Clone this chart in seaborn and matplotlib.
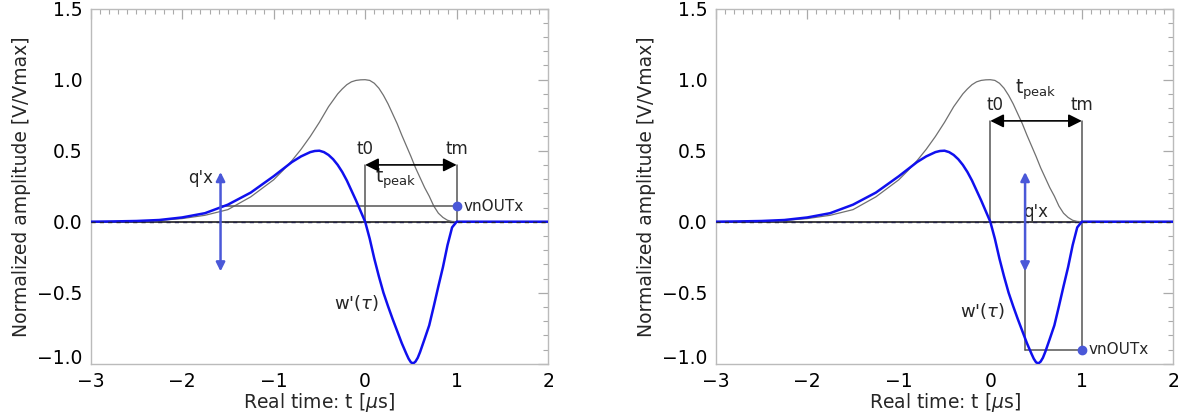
import numpy as np
import pandas as pd
import matplotlib
matplotlib.use('Agg')
import matplotlib.pyplot as plt
from matplotlib.ticker import MultipleLocator, FuncFormatter
import seaborn as sns

# pulse (gray) and weighting function w'(tau) (blue)
t_pulse = [-3.0, -2.75, -2.5, -2.25, -2.0, -1.75, -1.5, -1.25, -1.0, -0.9, -0.8, -0.7,
           -0.6, -0.5, -0.4, -0.3, -0.25, -0.2, -0.15, -0.1, -0.05, 0.0, 0.05, 0.1, 0.15,
           0.2, 0.25, 0.3, 0.35, 0.4, 0.45, 0.5, 0.55, 0.6, 0.65, 0.7, 0.75, 0.8, 0.85,
           0.9, 0.95, 1.0, 1.5, 2.0]
v_pulse = [0.0, 0.001, 0.004, 0.009, 0.022, 0.045, 0.085, 0.175, 0.295, 0.36, 0.43, 0.51,
           0.60, 0.70, 0.81, 0.90, 0.935, 0.965, 0.985, 0.995, 0.999, 1.0, 0.995, 0.975, 0.94,
           0.89, 0.83, 0.76, 0.69, 0.61, 0.535, 0.46, 0.38, 0.31, 0.24, 0.18, 0.11, 0.06, 0.03,
           0.01, 0.002, 0.0, 0.0, 0.0]

t_w = [-3.0, -2.75, -2.5, -2.25, -2.0, -1.75, -1.5, -1.25, -1.0, -0.9, -0.8, -0.7, -0.6,
       -0.55, -0.5, -0.45, -0.4, -0.35, -0.3, -0.25, -0.2, -0.15, -0.1, -0.05, 0.0, 0.05,
       0.1, 0.15, 0.2, 0.25, 0.3, 0.35, 0.4, 0.45, 0.475, 0.5, 0.525, 0.55, 0.575, 0.6,
       0.65, 0.7, 0.75, 0.8, 0.85, 0.9, 0.95, 1.0, 1.5, 2.0]
v_w = [0.0, 0.002, 0.005, 0.012, 0.03, 0.06, 0.12, 0.205, 0.32, 0.37, 0.42, 0.46, 0.49,
       0.498, 0.50, 0.49, 0.47, 0.44, 0.40, 0.35, 0.29, 0.22, 0.15, 0.075, 0.0, -0.12,
       -0.26, -0.385, -0.50, -0.595, -0.685, -0.77, -0.855, -0.93, -0.965, -0.99, -0.998,
       -0.985, -0.958, -0.918, -0.825, -0.73, -0.595, -0.455, -0.32, -0.165, -0.04, 0.0,
       0.0, 0.0]

# annotation values for the two panels
vnout = [0.11, -0.9]          # sampled output value at t_m
q_t = [-1.58, 0.38]           # where the q'x arrow sits
q_span = [0.35, -0.35]        # top / bottom of q'x arrow
t0, tm = 0.0, 1.0
arrow_level = [0.40, 0.71]    # height of the t0 <-> tm arrow

pulse = pd.DataFrame({'t': t_pulse, 'v': v_pulse})
wfun = pd.DataFrame({'t': t_w, 'v': v_w})

sns.set_theme(style='white')
plt.rcParams['font.family'] = ['DejaVu Sans']
plt.rcParams['mathtext.fontset'] = 'dejavusans'

blue = '#1010ee'
qblue = '#4a58d8'
dark = '#555555'

fig = plt.figure(figsize=(11.84, 4.16), dpi=100)
ax1 = fig.add_axes([0.0765, 0.1257, 0.3865, 0.8534])
ax2 = fig.add_axes([0.6045, 0.1257, 0.3865, 0.8534])

for i, ax in enumerate([ax1, ax2]):
    ax.plot([-3, 2], [0, 0], color='#333333', lw=1.3, zorder=2)
    sns.lineplot(data=pulse, x='t', y='v', ax=ax, color='#707070', lw=0.9, zorder=3)
    sns.lineplot(data=wfun, x='t', y='v', ax=ax, color=blue, lw=1.8, zorder=4)
    ax.plot([-3, 2], [0, 0], color='#222244', lw=1.0, ls=(0, (3, 3)), zorder=5)

    lev = arrow_level[i]
    # t0 / tm verticals and arrow
    ax.plot([t0, t0], [0, lev], color=dark, lw=1.1, zorder=3)
    if i == 0:
        ax.plot([tm, tm], [0, lev], color=dark, lw=1.1, zorder=3)
    else:
        ax.plot([tm, tm], [vnout[i], lev], color=dark, lw=1.1, zorder=3)
        ax.plot([q_t[i], q_t[i]], [vnout[i], 0], color=dark, lw=1.1, zorder=3)
    ax.plot([q_t[i], tm], [vnout[i], vnout[i]], color=dark, lw=1.1, zorder=3)
    ax.annotate('', xy=(t0, lev), xytext=(tm, lev),
                arrowprops=dict(arrowstyle='<|-|>', color='black', lw=1.2,
                                mutation_scale=20, shrinkA=0, shrinkB=0), zorder=6)
    ax.annotate('', xy=(q_t[i], q_span[0]), xytext=(q_t[i], q_span[1]),
                arrowprops=dict(arrowstyle='<|-|>', color=qblue, lw=1.8,
                                mutation_scale=13, shrinkA=0, shrinkB=0), zorder=6)
    ax.plot([tm], [vnout[i]], 'o', color=qblue, ms=6, zorder=7)
    ax.text(tm + 0.07, vnout[i], 'vnOUTx', fontsize=11, va='center', ha='left')

    ax.set_xlim(-3, 2)
    ax.set_ylim(-1.0, 1.5)
    ax.xaxis.set_major_locator(MultipleLocator(1))
    ax.xaxis.set_minor_locator(MultipleLocator(0.1))
    ax.yaxis.set_major_locator(MultipleLocator(0.5))
    ax.yaxis.set_minor_locator(MultipleLocator(0.1))
    ax.tick_params(which='both', direction='in', top=True, right=True, color='#aaaaaa',
                   labelsize=13.5, labelcolor='black')
    ax.tick_params(which='major', length=7, width=0.9, pad=6)
    ax.tick_params(which='minor', length=3.5, width=0.8)
    for s in ax.spines.values():
        s.set_color('#bbbbbb')
        s.set_linewidth(1.0)
    ax.set_xlabel(r'Real time: t [$\mu$s]', fontsize=13.5, labelpad=0)
    ax.set_ylabel('Normalized amplitude [V/Vmax]', fontsize=13.5, labelpad=4)
    ax.yaxis.set_major_formatter(FuncFormatter(
        lambda v, p: f'{v:.1f}'.replace('-', '\u2212')))
    ax.xaxis.set_major_formatter(FuncFormatter(
        lambda v, p: f'{v:.0f}'.replace('-', '\u2212')))

fig.canvas.draw()
for ax in [ax1, ax2]:
    for lab in ax.get_yticklabels():
        if lab.get_text() == '\u22121.0':
            lab.set_va('baseline')

# left panel labels
ax1.text(0.0, 0.51, 't0', fontsize=12, ha='center', va='center')
ax1.text(1.0, 0.51, 'tm', fontsize=12, ha='center', va='center')
ax1.text(0.33, 0.30, r'$\mathregular{t_{peak}}$', fontsize=13.5, ha='center', va='center')
ax1.text(-1.8, 0.31, "q'x", fontsize=12, ha='center', va='center')
ax1.text(-0.1, -0.57, r"w'($\tau$)", fontsize=13, ha='center', va='center')

# right panel labels
ax2.text(0.05, 0.82, 't0', fontsize=12, ha='center', va='center')
ax2.text(1.0, 0.82, 'tm', fontsize=12, ha='center', va='center')
ax2.text(0.5, 0.93, r'$\mathregular{t_{peak}}$', fontsize=13.5, ha='center', va='center')
ax2.text(0.5, 0.07, "q'x", fontsize=12, ha='center', va='center')
ax2.text(-0.08, -0.63, r"w'($\tau$)", fontsize=13, ha='center', va='center')

fig.savefig('out.png', dpi=100)
